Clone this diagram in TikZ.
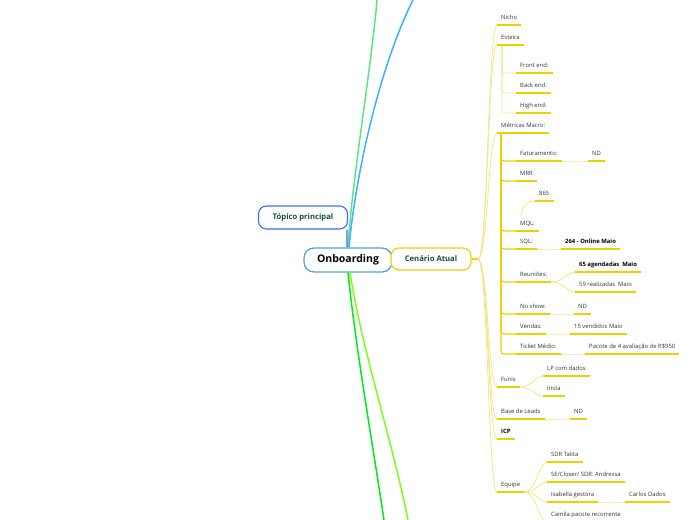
\documentclass[tikz,border=0pt]{standalone}
\usepackage{fontspec}
\setmainfont{Open Sans}
\usetikzlibrary{calc}

\definecolor{gold}{HTML}{E8D200}
\definecolor{palegold}{HTML}{F2E68A}
\definecolor{skyline}{HTML}{3DB2FF}
\definecolor{mintline}{HTML}{5EE38C}
\definecolor{greenline}{HTML}{00E81A}
\definecolor{limeline}{HTML}{7CFF1A}
\definecolor{topblue}{HTML}{3D6EF5}
\definecolor{rootblue}{HTML}{529FD9}
\definecolor{topictext}{HTML}{1B4D3E}

\tikzset{
  item/.style={anchor=south west,font=\fontsize{5.9}{7}\selectfont,text=black!80,
    inner xsep=4pt,inner ysep=4pt,text height=4pt,text depth=1.5pt},
  bolditem/.style={item,font=\fontsize{5.9}{7}\selectfont\bfseries,text=black},
  uline/.style={gold,line width=1.3pt},
  twig/.style={palegold,line width=0.8pt},
  mainline/.style={line width=1.5pt},
}

\begin{document}
\begin{tikzpicture}[x=1pt,y=-1pt]
    \useasboundingbox (0,0) rectangle (697,520);
    % central topics
    \node[draw=rootblue,line width=1.2pt,fill=white,rounded corners=10pt,minimum width=88pt,minimum height=24pt,
          font=\fontsize{10.5}{12}\selectfont\bfseries] (onb) at (348,260) {Onboarding};
    \node[draw=topblue,line width=1.1pt,fill=white,rounded corners=8pt,minimum width=89pt,minimum height=23pt,
          font=\fontsize{7.7}{9}\selectfont\bfseries,text=topictext] (top) at (303,217.5) {Tópico principal};
    \node[draw=gold,line width=1.1pt,fill=white,rounded corners=8pt,minimum width=80pt,minimum height=22pt,
          font=\fontsize{7.7}{9}\selectfont\bfseries,text=topictext] (cen) at (431,259) {Cenário Atual};

    % branches leaving the page
    \coordinate (offA) at (377,0);
    \coordinate (offB) at (413,0);
    \coordinate (offC) at (384,520);
    \coordinate (offD) at (408,520);
    \draw[mainline,mintline] (onb.north) .. controls (352,180) and (371,70) .. (offA);
    \draw[mainline,skyline] ([xshift=1pt]onb.north) .. controls (355,180) and (378,70) .. (offB);
    \draw[mainline,greenline] (onb.south) .. controls (356,350) and (372,440) .. (offC);
    \draw[mainline,limeline] ([xshift=2pt]onb.south) .. controls (362,350) and (392,440) .. (offD);
    \draw[line width=1.3pt,topblue] ([xshift=-1pt]onb.north) -- ([xshift=-1pt]top.south east);

    % first level
    \node[item] (nicho) at (497,25) {Nicho};
    \node[item] (esteira) at (497,45) {Esteira};
    \node[item] (metricas) at (497,133) {Métricas Macro:};
    \node[item] (funis) at (497,387) {Funis};
    \node[item] (base) at (497,419) {Base de Leads};
    \node[bolditem] (icp) at (497,439) {ICP};
    \node[item] (equipe) at (497,492) {Equipe};

    % esteira
    \node[item] (front) at (516,73) {Front end:};
    \node[item] (back) at (516,93) {Back end:};
    \node[item] (high) at (516,113) {High end:};

    % metricas
    \node[item] (fat) at (516,161) {Faturamento:};
    \node[item] (ndfat) at (588,161) {ND};
    \node[item] (mrr) at (516,181) {MRR};
    \node[item] (n865) at (535,201) {865};
    \node[item] (mql) at (516,231) {MQL:};
    \node[item] (sql) at (516,249) {SQL:};
    \node[bolditem] (online) at (561,249) {264 - Online Maio};
    \node[item] (reun) at (516,282) {Reuniões:};
    \node[bolditem] (agend) at (575,272) {65 agendadas~ Maio};
    \node[item] (realiz) at (575,292) {59 realizadas~ Maio};
    \node[item] (noshow) at (516,314) {No show:};
    \node[item] (ndno) at (574,314) {ND};
    \node[item] (vendas) at (516,334) {Vendas:};
    \node[item] (vend) at (570,334) {15 vendidos Maio};
    \node[item] (ticket) at (516,354) {Ticket Médio:};
    \node[item] (pacote) at (585,354) {Pacote de 4 avaliação de R\$950};

    % funis, base, equipe
    \node[item] (lp) at (543,376) {LP com dados};
    \node[item] (insta) at (543,396) {Insta};
    \node[item] (ndbase) at (570,419) {ND};
    \node[item] (talita) at (547,462) {SDR Talita};
    \node[item] (andressa) at (547,482) {SE/Closer/ SDR: Andressa};
    \node[item] (isabella) at (547,502) {Isabella gestora};
    \node[item] (carlos) at (625,502) {Carlos Dados};
    \node[item] (camila) at (547,522) {Camila pacote recorrente};

    % connectors
    \coordinate (hub) at (478,259);
    \draw[uline] (cen.east) -- (hub);
    \foreach \n in {nicho,esteira,metricas,funis,base,icp,equipe}
        \draw[twig] (hub) .. controls +(10,0) and +(-9,0) .. (\n.south west);
    \foreach \n in {front,back,high}
        \draw[twig,rounded corners=3pt] ($(esteira.south west)+(5,0)$) |- (\n.south west);
    \foreach \n in {fat,mrr,mql,sql,reun,noshow,vendas,ticket}
        \draw[gold,line width=1.2pt,rounded corners=3pt] ($(metricas.south west)+(4,0)$) |- (\n.south west);
    \foreach \a/\b in {fat/ndfat,sql/online,reun/agend,reun/realiz,noshow/ndno,vendas/vend,ticket/pacote,
                       funis/lp,funis/insta,base/ndbase,equipe/talita,equipe/andressa,equipe/isabella,
                       equipe/camila,isabella/carlos}
        \draw[twig] (\a.south east) .. controls +(12,0) and +(-8,0) .. (\b.south west);
    \draw[twig] ($(mql.south west)+(5,-14)$) .. controls +(0,-10) and +(-8,0) .. (n865.south west);

    % underlines
    \foreach \n in {nicho,esteira,metricas,funis,base,icp,equipe,front,back,high,fat,ndfat,mrr,n865,mql,sql,
                    online,reun,agend,realiz,noshow,ndno,vendas,vend,ticket,pacote,lp,insta,ndbase,talita,
                    andressa,isabella,carlos,camila}
        \draw[uline] (\n.south west) -- (\n.south east);
\end{tikzpicture}
\end{document}
